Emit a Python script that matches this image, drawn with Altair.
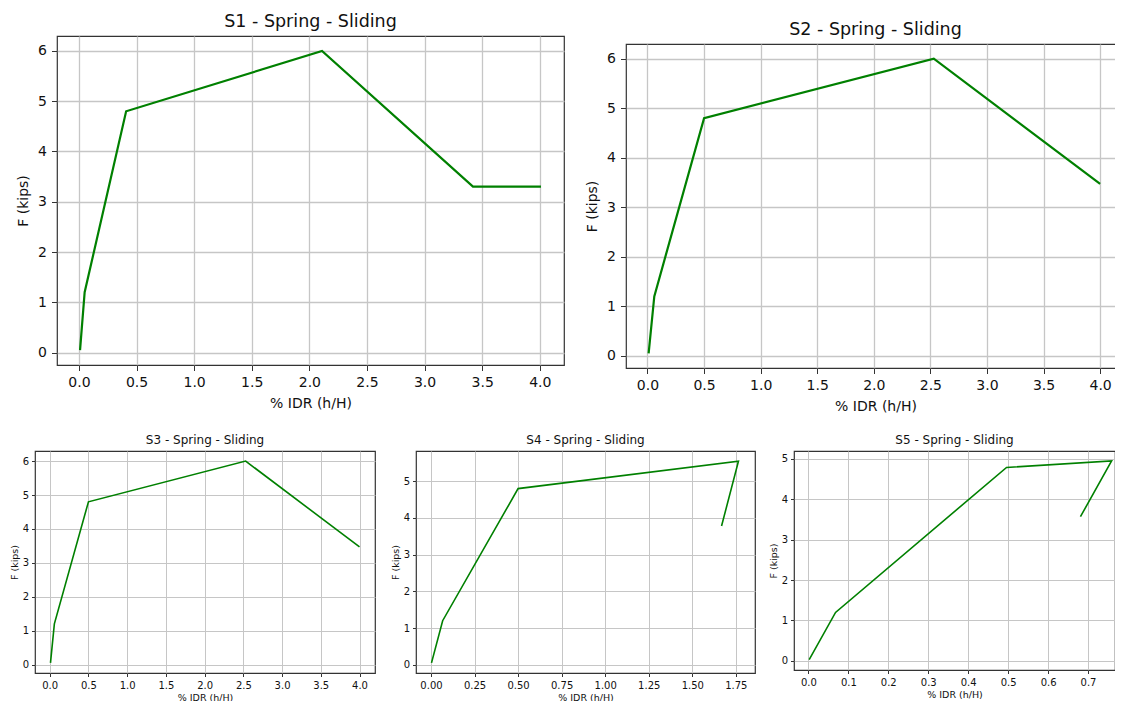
import altair as alt
import pandas as pd

# ---- data ----
s1_x = [0.01, 0.05, 0.41, 2.11, 3.42, 4.01]
s1_f = [0.05, 1.2, 4.8, 6.0, 3.3, 3.3]
s2_x = [0.01, 0.06, 0.5, 2.53, 4.0]
s2_f = [0.05, 1.2, 4.8, 6.0, 3.47]
s3_x = [0.01, 0.06, 0.5, 2.53, 4.0]
s3_f = [0.05, 1.2, 4.8, 6.0, 3.47]
s4_x = [0.003, 0.067, 0.5, 1.765, 1.668]
s4_f = [0.05, 1.2, 4.8, 5.55, 3.78]
s5_x = [0.002, 0.068, 0.496, 0.759, 0.681]
s5_f = [0.03, 1.2, 4.79, 4.95, 3.57]

ticks_x_4 = [0.0, 0.5, 1.0, 1.5, 2.0, 2.5, 3.0, 3.5, 4.0]
ticks_x_s4 = [0.0, 0.25, 0.5, 0.75, 1.0, 1.25, 1.5, 1.75]
ticks_x_s5 = [0.0, 0.1, 0.2, 0.3, 0.4, 0.5, 0.6, 0.7]
ticks_y_6 = [0, 1, 2, 3, 4, 5, 6]
ticks_y_5 = [0, 1, 2, 3, 4, 5]

FONT = "DejaVu Sans"
TXT = "#111111"


def panel(xs, fs, title, xdom, ydom, xticks, yticks, xfmt, w, h, big):
    df = pd.DataFrame({"x": xs, "F": fs, "i": list(range(len(xs)))})
    if big:
        lab, ttl, tfs, tick, sw, gw = 14, 14, 17.5, 5.5, 2.2, 1.3
        lpx, lpy, xpad, ypad, toff = 5, 5, 7, 7, 6
    else:
        lab, ttl, tfs, tick, sw, gw = 10, 9.5, 12, 3.5, 1.6, 1.0
        lpx, lpy, xpad, ypad, toff = 4, 3, 2, 3, 4
    common = dict(
        labelFont=FONT, titleFont=FONT, labelFontSize=lab, titleFontSize=ttl,
        titleFontWeight="normal", labelColor=TXT, titleColor=TXT,
        tickSize=tick, tickColor="#333333", tickWidth=1, domain=False,
        gridColor="#c6c6c6", gridWidth=gw,
        labelOverlap=False, labelFlush=False,
    )
    return (
        alt.Chart(df)
        .mark_line(color="#008000", strokeWidth=sw)
        .encode(
            x=alt.X("x:Q", scale=alt.Scale(domain=xdom, nice=False, zero=False),
                    axis=alt.Axis(values=xticks, format=xfmt, title="% IDR (h/H)",
                                  labelPadding=lpx, titlePadding=xpad, **common)),
            y=alt.Y("F:Q", scale=alt.Scale(domain=ydom, nice=False, zero=False),
                    axis=alt.Axis(values=yticks, format="d", title="F (kips)",
                                  labelPadding=lpy, titlePadding=ypad, **common)),
            order="i:O",
        )
        .properties(
            width=w, height=h,
            title=alt.TitleParams(title, font=FONT, fontSize=tfs,
                                  fontWeight="normal", color=TXT, offset=toff),
        )
    )


def spacer():
    return (
        alt.Chart(pd.DataFrame({"a": [0]}))
        .mark_point(opacity=0, size=1)
        .encode(x=alt.value(0), y=alt.value(0))
        .properties(width=1, height=1, view=alt.ViewConfig(stroke="transparent"))
    )


p1 = panel(s1_x, s1_f, "S1 - Spring - Sliding", [-0.19, 4.21], [-0.2475, 6.2975],
           ticks_x_4, ticks_y_6, ".1f", 507, 329, True)
p2 = panel(s2_x, s2_f, "S2 - Spring - Sliding", [-0.19, 4.22], [-0.2475, 6.2975],
           ticks_x_4, ticks_y_6, ".1f", 499, 324, True)
p3 = panel(s3_x, s3_f, "S3 - Spring - Sliding", [-0.19, 4.20], [-0.2475, 6.2975],
           ticks_x_4, ticks_y_6, ".1f", 340, 222, False)
p4 = panel(s4_x, s4_f, "S4 - Spring - Sliding", [-0.086, 1.86], [-0.225, 5.825],
           ticks_x_s4, ticks_y_5, ".2f", 339, 222, False)
p5 = panel(s5_x, s5_f, "S5 - Spring - Sliding", [-0.036, 0.7675], [-0.2265, 5.1965],
           ticks_x_s5, ticks_y_5, ".1f", 321, 219, False)

left_top = alt.hconcat(spacer(), p1, spacing=21, bounds="flush")
right_top = alt.vconcat(spacer(), p2, spacing=7, bounds="flush")
top = alt.hconcat(left_top, right_top, spacing=19)
bottom = alt.hconcat(p3, alt.hconcat(p4, p5, spacing=11), spacing=13)

chart = (
    alt.vconcat(top, bottom, spacing=18)
    .properties(padding={"left": 0, "top": 3, "right": -11, "bottom": 0})
    .configure(font=FONT, background="white")
    .configure_view(stroke="#333333", strokeWidth=1.2)
)

chart.save("out.html", embed_options={"renderer": "svg", "actions": False})
